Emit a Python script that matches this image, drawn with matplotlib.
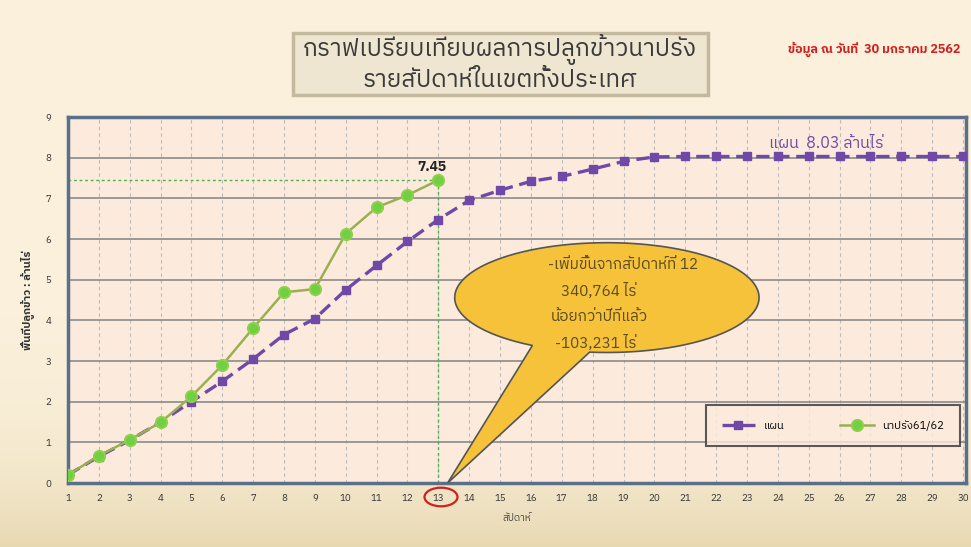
import numpy as np
import matplotlib
matplotlib.use("Agg")
import matplotlib.pyplot as plt
from matplotlib import font_manager
from matplotlib.patches import Polygon, FancyBboxPatch, Circle

# Pick a font that can draw Thai, fall back to DejaVu Sans
names = sorted({f.name for f in font_manager.fontManager.ttflist})
thai = [n for n in names if "Thai" in n or "Loma" in n or "Garuda" in n or "Sarabun" in n]
plt.rcParams['font.family'] = thai + ['Noto Sans', 'DejaVu Sans']

# Data
weeks = list(range(1, 31))
plan = [0.2, 0.65, 1.05, 1.5, 2.0, 2.5, 3.05, 3.65, 4.04, 4.75, 5.35, 5.94, 6.48, 6.95, 7.2,
        7.42, 7.54, 7.72, 7.91, 8.02, 8.03, 8.03, 8.03, 8.03, 8.03, 8.03, 8.03, 8.03, 8.03, 8.03]
weeks_actual = list(range(1, 14))
actual = [0.2, 0.67, 1.06, 1.49, 2.13, 2.9, 3.81, 4.69, 4.77, 6.13, 6.78, 7.08, 7.45]
current_week = 13
current_value = 7.45
callout = ['-เพิ่มขึ้นจากสัปดาห์ที่ 12', '340,764 ไร่', 'น้อยกว่าปีที่แล้ว', '-103,231 ไร่']

fig = plt.figure(figsize=(9.71, 5.47), dpi=100)

# background gradient
bg = fig.add_axes([0, 0, 1, 1], zorder=-10)
grad = np.linspace(0, 1, 200) ** 6
cols = np.array([0.985, 0.945, 0.865])[None, :] * (1 - grad[:, None]) + np.array([0.91, 0.85, 0.70])[None, :] * grad[:, None]
bg.imshow(cols[:, None, :], aspect='auto', extent=[0, 1, 0, 1], origin='upper')
bg.axis('off')

ax = fig.add_axes([0.070, 0.117, 0.925, 0.669])
ax.set_facecolor('#fcebdd')

ax.plot(weeks, plan, color='#7048a8', linestyle=(0, (4, 2)), linewidth=2.4,
        marker='s', markersize=6, markerfacecolor='#7048a8', label='แผน', zorder=3)
ax.plot(weeks_actual, actual, color='#9ab050', linewidth=1.8,
        marker='o', markersize=8, markerfacecolor='#6fd040', markeredgecolor='#8fcf50',
        markeredgewidth=1.5, label='นาปรัง61/62', zorder=4)

ax.set_xlim(1, 30.1)
ax.set_ylim(0, 9)
ax.set_xticks(weeks)
ax.set_yticks(range(0, 10))
ax.tick_params(axis='both', labelsize=7, length=0, colors='#333333')
ax.tick_params(axis='x', pad=8)
ax.tick_params(axis='y', pad=12)
ax.grid(axis='y', color='#8a8a8a', linewidth=1.2)
ax.grid(axis='x', color='#bbbbbb', linewidth=0.8, linestyle=(0, (3, 3)))
ax.set_axisbelow(True)
for s in ax.spines.values():
    s.set_color('#5a7088')
    s.set_linewidth(2.5)

ax.set_xlabel('สัปดาห์', fontsize=7, color='#444444', labelpad=8)
ax.set_ylabel('พื้นที่ปลูกข้าว : ล้านไร่', fontsize=8, color='#333333', fontweight='bold')
ax.yaxis.set_label_coords(-0.037, 0.5)

# guide lines at current week
ax.plot([1, current_week], [current_value, current_value], color='#50b050', linestyle=(0, (2, 2)), linewidth=1, zorder=2)
ax.plot([current_week, current_week], [0, current_value], color='#50b050', linestyle=(0, (2, 2)), linewidth=1, zorder=2)
ax.text(current_week - 0.2, current_value + 0.15, '7.45', fontsize=10, fontweight='bold', color='#222222', ha='center', va='bottom')
ax.text(25.56, 8.37, 'แผน  8.03 ล้านไร่', fontsize=11.5, color='#7048a8', ha='center', va='center')

# callout: ellipse with a tail pointing at week 13
cx, cy, a, b = 18.46, 4.56, 4.93, 1.35
t = np.radians(np.linspace(-96.5, 240.7, 200))
pts = np.column_stack([cx + a * np.cos(t), cy + b * np.sin(t)])
pts = np.vstack([pts, [[13.3, 0.0]]])
ax.add_patch(Polygon(pts, closed=True, facecolor='#f5c23a', edgecolor='#555555', linewidth=1.2, zorder=5))
for i, (txt, xx) in enumerate(zip(callout, [19.0, 18.2, 18.2, 18.1])):
    ax.text(xx, 5.37 - i * 0.64, txt, fontsize=11, color='#5a4a20', ha='center', va='center', zorder=7)

leg = ax.legend(loc='lower right', bbox_to_anchor=(0.993, 0.10), ncol=2, fontsize=8, frameon=True,
                fancybox=False, edgecolor='#333333', facecolor='#fcebdd', borderpad=1.4,
                handlelength=3, columnspacing=5, borderaxespad=0)
leg.get_frame().set_linewidth(1.5)

# red circle around week 13 tick label
fig.patches.append(Circle((441 / 971, 1 - 497 / 547), 0.017, transform=fig.transFigure,
                          fill=False, edgecolor='#d02020', linewidth=1.6))

# title box
box = FancyBboxPatch((0.302, 0.826), 0.427, 0.114, boxstyle='square,pad=0', transform=fig.transFigure,
                     facecolor='#efe6d2', edgecolor='#c4b99e', linewidth=2.5)
fig.patches.append(box)
fig.text(0.515, 0.910, 'กราฟเปรียบเทียบผลการปลูกข้าวนาปรัง', fontsize=17.5, ha='center', va='center', color='#3a3a3a')
fig.text(0.515, 0.852, 'รายสัปดาห์ในเขตทั้งประเทศ', fontsize=17.5, ha='center', va='center', color='#3a3a3a')
fig.text(0.812, 0.910, 'ข้อมูล ณ วันที่  30 มกราคม 2562', fontsize=9, ha='left', va='center', color='#d02020', fontweight='bold')

fig.savefig('out.png', dpi=100)
